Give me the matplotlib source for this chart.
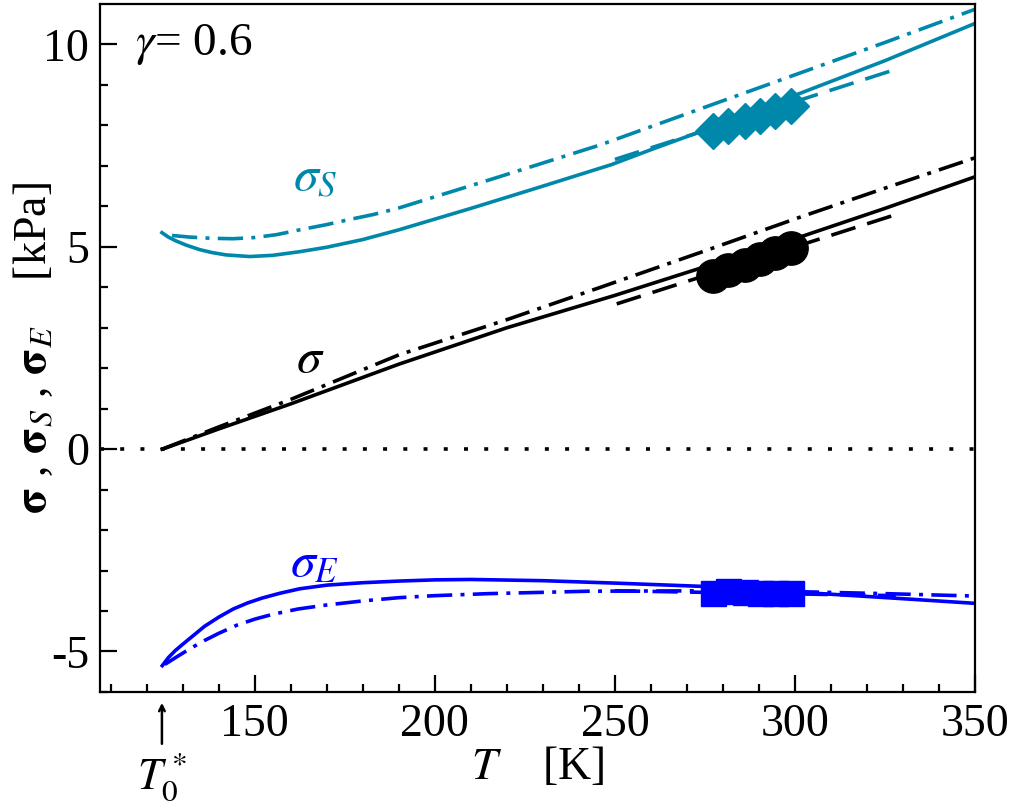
import numpy as np
import matplotlib.pyplot as plt

plt.rcParams['font.family'] = ['Liberation Serif', 'DejaVu Serif']
plt.rcParams['mathtext.fontset'] = 'stix'

cyan = '#0088aa'
blue = '#0000ff'

# sigma (black)
T_sig = [124.3, 140, 160, 190, 220, 250, 274, 300, 325, 350]
sig_full = [0.0, 0.5, 1.12, 2.1, 3.0, 3.8, 4.48, 5.2, 5.95, 6.73]
T_sig_dd = [124.3, 140, 160, 190, 220, 246, 275, 301, 325, 350]
sig_dd = [0.0, 0.55, 1.23, 2.33, 3.2, 4.0, 4.9, 5.72, 6.45, 7.2]
T_sig_da = [250.5, 327.8]
sig_da = [3.59, 5.79]

# sigma_S (cyan)
T_S = [124.2, 126, 128, 131, 134.7, 138, 142, 148.6, 155, 162.5, 170, 180, 190, 210, 230, 249, 260, 280, 299, 325, 350]
S_full = [5.35, 5.24, 5.15, 5.04, 4.93, 4.86, 4.8, 4.76, 4.79, 4.88, 4.99, 5.18, 5.42, 5.95, 6.5, 7.03, 7.4, 8.05, 8.71, 9.6, 10.52]
T_S_dd = [127, 132, 138, 144, 150, 156, 162.5, 170, 176, 183, 190, 215, 246, 275, 300, 325, 350]
S_dd = [5.28, 5.24, 5.21, 5.2, 5.23, 5.3, 5.42, 5.55, 5.67, 5.8, 5.96, 6.65, 7.52, 8.45, 9.25, 10.05, 10.87]
T_S_da = [250, 327.8]
S_da = [7.16, 9.38]

# sigma_E (blue)
T_E = [124.3, 126, 128, 130, 133, 136, 140, 144, 148, 152, 157, 162.5, 170, 180, 190, 200, 210, 230, 250, 274, 300, 329, 350]
E_full = [-5.35, -5.15, -4.97, -4.82, -4.6, -4.38, -4.15, -3.95, -3.8, -3.68, -3.56, -3.45, -3.36, -3.3, -3.26, -3.23, -3.22, -3.25, -3.31, -3.39, -3.53, -3.69, -3.81]
T_E_dd = [125, 128, 132, 136, 140, 145, 150, 155, 162, 170, 180, 190, 200, 215, 243, 275, 300, 325, 350]
E_dd = [-5.32, -5.15, -4.93, -4.73, -4.55, -4.35, -4.2, -4.08, -3.95, -3.85, -3.75, -3.67, -3.62, -3.57, -3.51, -3.5, -3.52, -3.57, -3.63]
T_E_da = [250, 328]
E_da = [-3.5, -3.62]

# experimental points
T_exp = [277.2, 281.5, 286, 290.3, 294.5, 298.8]
sig_exp = [4.28, 4.43, 4.56, 4.70, 4.84, 4.97]
S_exp = [7.85, 7.98, 8.1, 8.23, 8.35, 8.49]
E_exp = [-3.56, -3.5, -3.53, -3.55, -3.55, -3.55]

dd = (0, (7.0, 2.3, 1.1, 2.3))
da = (0, (7.0, 3.4))
lw = 2.6

fig = plt.figure(figsize=(10.11, 8.02), dpi=100)
ax = fig.add_axes([0.0989, 0.1372, 0.8655, 0.8578])

ax.plot([107, 350], [0, 0], color='k', lw=lw, linestyle=(0, (1.1, 4.5)))

ax.plot(T_sig, sig_full, color='k', lw=lw)
ax.plot(T_sig_dd, sig_dd, color='k', lw=lw, linestyle=dd)
ax.plot(T_sig_da, sig_da, color='k', lw=lw, linestyle=da)

ax.plot(T_S, S_full, color=cyan, lw=lw)
ax.plot(T_S_dd, S_dd, color=cyan, lw=lw, linestyle=dd)
ax.plot(T_S_da, S_da, color=cyan, lw=lw, linestyle=da)

ax.plot(T_E, E_full, color=blue, lw=lw)
ax.plot(T_E_dd, E_dd, color=blue, lw=lw, linestyle=dd)
ax.plot(T_E_da, E_da, color=blue, lw=lw, linestyle=da)

ax.plot(T_exp, sig_exp, 'o', color='k', ms=24, ls='none')
ax.plot(T_exp, S_exp, 'D', color=cyan, ms=18, ls='none')
ax.plot(T_exp, E_exp, 's', color=blue, ms=18, ls='none')

ax.set_xlim(107, 350)
ax.set_ylim(-6, 11)
ax.set_xticks([150, 200, 250, 300, 350])
ax.set_xticks(np.arange(110, 351, 10), minor=True)
ax.set_yticks([-5, 0, 5, 10])
ax.set_yticklabels(['-5', '0', '5', '10'])
ax.set_yticks(np.arange(-6, 11, 1), minor=True)
ax.tick_params(which='both', direction='in', labelsize=33, width=1.6)
ax.tick_params(which='major', length=12, pad=8)
ax.tick_params(which='minor', length=6)
for s in ax.spines.values():
    s.set_linewidth(1.6)

ax.set_xlabel(r'$T$    [K]', fontsize=33, labelpad=0)
ax.set_ylabel(r'$\mathbf{\sigma}$ , $\mathbf{\sigma}_S$ , $\mathbf{\sigma}_E$    [kPa]', fontsize=33)
ax.yaxis.set_label_coords(-0.05, 0.5)

ax.text(116.7, 10.0, r'$\gamma$= 0.6', fontsize=34, va='center', ha='left')
ax.text(166.7, 6.7, r'$\sigma_S$', fontsize=36, color=cyan, ha='center', va='center')
ax.text(165.3, 2.2, r'$\sigma$', fontsize=36, color='k', ha='center', va='center')
ax.text(166.7, -2.85, r'$\sigma_E$', fontsize=36, color=blue, ha='center', va='center')

ax.annotate('', xy=(124.2, -6.2), xytext=(124.2, -7.35),
            arrowprops=dict(arrowstyle='->', lw=1.8, color='k'), annotation_clip=False)
ax.text(124.2, -8.1, r'$T_0^*$', fontsize=32, ha='center', va='center')

plt.savefig('out.png', dpi=100)
